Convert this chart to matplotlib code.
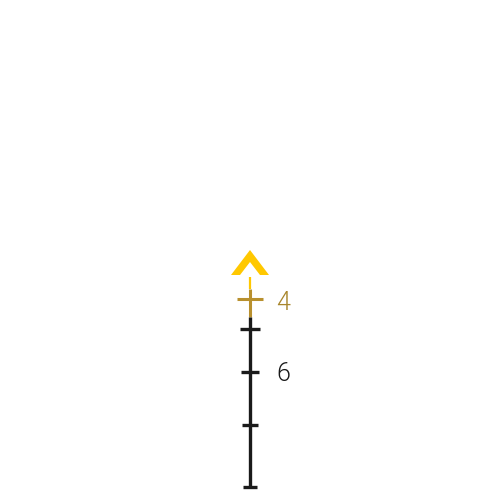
import matplotlib.pyplot as plt

# reticle layout (data units = pixels, y grows downward)
stem_x = 250
chevron_x = [231, 250, 269, 260, 250, 240]
chevron_y = [275, 250, 275, 275, 262, 275]
yellow_stem = [277, 289]
gold_stem = [289, 317]
black_stem = [317, 487]
gold_cross_y = 299
gold_cross_half = 13
tick_y = [329, 372, 425, 487]
tick_half = [10, 9, 8, 7]
labels = ['4', '6']
label_y = [303, 374]
label_colors = ['#a8862c', '#1a1a1a']

yellow = '#ffc800'
gold = '#b8902e'
black = '#1a1a1a'

fig = plt.figure(figsize=(5.0, 5.01), dpi=100)
ax = fig.add_axes([0, 0, 1, 1])
ax.set_xlim(0, 500)
ax.set_ylim(501, 0)
ax.axis('off')

ax.fill(chevron_x, chevron_y, color=yellow, linewidth=0)
ax.plot([stem_x, stem_x], yellow_stem, color=yellow, linewidth=1.6,
        solid_capstyle='butt')
ax.plot([stem_x, stem_x], gold_stem, color=gold, linewidth=2.2,
        solid_capstyle='butt')
ax.plot([stem_x - gold_cross_half, stem_x + gold_cross_half],
        [gold_cross_y, gold_cross_y], color=gold, linewidth=2.2,
        solid_capstyle='butt')
ax.plot([stem_x, stem_x], black_stem, color=black, linewidth=2.4,
        solid_capstyle='butt')
for y, h in zip(tick_y, tick_half):
    ax.plot([stem_x - h, stem_x + h], [y, y], color=black, linewidth=2.4,
            solid_capstyle='butt')

for txt, y, c in zip(labels, label_y, label_colors):
    ax.text(283.5, y, txt, color=c, fontsize=18, ha='center', va='center',
            family=['Roboto', 'DejaVu Sans'], fontweight=300,
            fontstretch='condensed')

fig.savefig('out.png', dpi=100)
